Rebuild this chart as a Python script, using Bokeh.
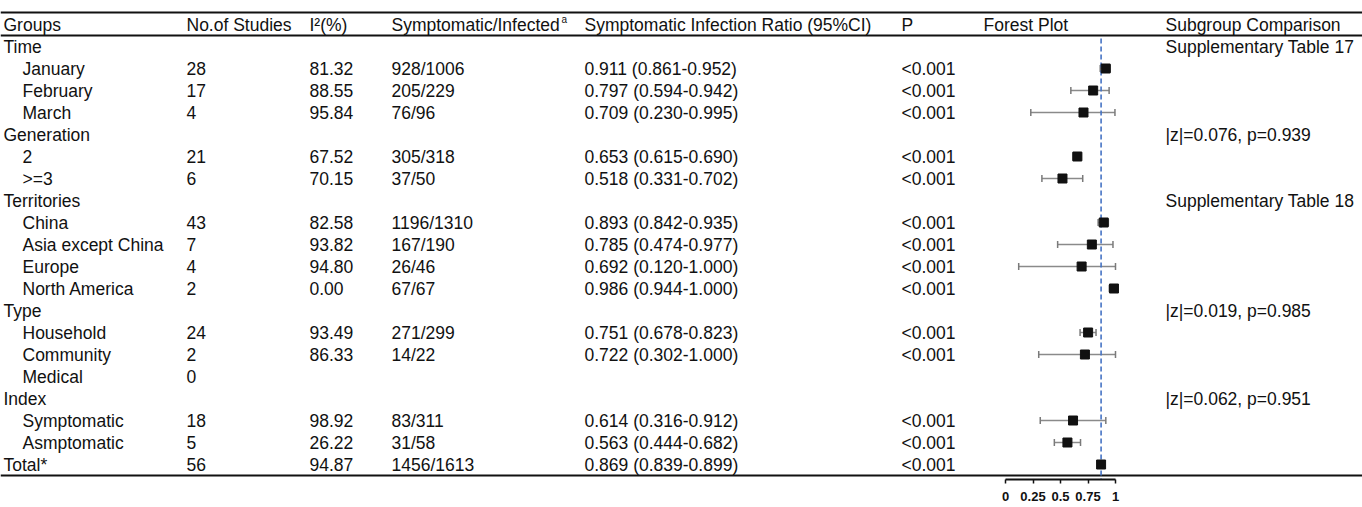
from bokeh.plotting import figure
from bokeh.models import Range1d, LinearAxis, FixedTicker, ColumnDataSource
from bokeh.core.properties import value
from bokeh.embed import file_html
from bokeh.resources import INLINE

# ---------------- data ----------------
headers = ["Groups", "No.of Studies", "I\u00b2(%)", "Symptomatic/Infected",
           "Symptomatic Infection Ratio (95%CI)", "P", "Forest Plot", "Subgroup Comparison"]
labels = ["Time", "January", "February", "March", "Generation", "2", ">=3",
          "Territories", "China", "Asia except China", "Europe", "North America",
          "Type", "Household", "Community", "Medical", "Index", "Symptomatic",
          "Asmptomatic", "Total*"]
indent = [0, 1, 1, 1, 0, 1, 1, 0, 1, 1, 1, 1, 0, 1, 1, 1, 0, 1, 1, 0]
studies = ["", "28", "17", "4", "", "21", "6", "", "43", "7", "4", "2", "",
           "24", "2", "0", "", "18", "5", "56"]
i2 = ["", "81.32", "88.55", "95.84", "", "67.52", "70.15", "", "82.58", "93.82",
      "94.80", "0.00", "", "93.49", "86.33", "", "", "98.92", "26.22", "94.87"]
symp_inf = ["", "928/1006", "205/229", "76/96", "", "305/318", "37/50", "",
            "1196/1310", "167/190", "26/46", "67/67", "", "271/299", "14/22", "",
            "", "83/311", "31/58", "1456/1613"]
ratio = [None, 0.911, 0.797, 0.709, None, 0.653, 0.518, None, 0.893, 0.785, 0.692,
         0.986, None, 0.751, 0.722, None, None, 0.614, 0.563, 0.869]
lower = [None, 0.861, 0.594, 0.230, None, 0.615, 0.331, None, 0.842, 0.474, 0.120,
         0.944, None, 0.678, 0.302, None, None, 0.316, 0.444, 0.839]
upper = [None, 0.952, 0.942, 0.995, None, 0.690, 0.702, None, 0.935, 0.977, 1.000,
         1.000, None, 0.823, 1.000, None, None, 0.912, 0.682, 0.899]
pvals = ["", "<0.001", "<0.001", "<0.001", "", "<0.001", "<0.001", "", "<0.001",
         "<0.001", "<0.001", "<0.001", "", "<0.001", "<0.001", "", "", "<0.001",
         "<0.001", "<0.001"]
subgroup = ["Supplementary Table 17", "", "", "", "|z|=0.076, p=0.939", "", "",
            "Supplementary Table 18", "", "", "", "", "|z|=0.019, p=0.985", "", "",
            "", "|z|=0.062, p=0.951", "", "", ""]
pooled = 0.869
axis_ticks = [0, 0.25, 0.5, 0.75, 1]

# ---------------- layout ----------------
W, H = 1362, 507
ROW0, ROWH = 46.0, 22.0          # pixel y of first row, row spacing
BOTTOM = 28                      # space for forest axis
def row_of(py):
    return (py - ROW0) / ROWH

FX0, FX1 = 1005.0, 1115.0        # pixel x of forest value 0 and 1
fscale = FX1 - FX0

p = figure(width=W, height=H, output_backend="svg", toolbar_location=None,
           x_axis_type=None, y_axis_type=None,
           x_range=Range1d(0, W),
           y_range=Range1d(row_of(H - BOTTOM), row_of(0)),
           min_border_left=0, min_border_right=0, min_border_top=0,
           min_border_bottom=BOTTOM)
p.outline_line_color = None
p.xgrid.visible = False
p.ygrid.visible = False
p.background_fill_color = "white"
p.border_fill_color = "white"

p.extra_x_ranges = {"forest": Range1d((0 - FX0) / fscale, (W - FX0) / fscale)}

FONT = value("Liberation Sans")
FS = "17.5px"
TXT = "#111111"

col_x = [3, 186, 309, 391, 584, 901, 983, 1165]

# header
hy = row_of(24)
p.text(x=col_x, y=[hy] * len(headers), text=headers, text_font=FONT,
       text_font_size=FS, text_baseline="middle", text_color=TXT)
# superscript a
p.text(x=[561], y=[row_of(19)], text=["a"], text_font=FONT, text_font_size="10px",
       text_baseline="middle", text_color=TXT)

rows = list(range(len(labels)))
src = ColumnDataSource(dict(
    y=rows,
    lx=[3 + 19 * i for i in indent],
    label=labels, studies=studies, i2=i2, symp=symp_inf,
    ratio_txt=[("%.3f (%.3f-%.3f)" % (r, l, u)) if r is not None else ""
               for r, l, u in zip(ratio, lower, upper)],
    p=pvals, sub=subgroup,
))
common = dict(y="y", source=src, text_font=FONT, text_font_size=FS,
              text_baseline="middle", text_color=TXT)
p.text(x="lx", text="label", **common)
p.text(x=col_x[1], text="studies", **common)
p.text(x=col_x[2], text="i2", **common)
p.text(x=col_x[3], text="symp", **common)
p.text(x=col_x[4], text="ratio_txt", **common)
p.text(x=col_x[5], text="p", **common)
p.text(x=col_x[7], text="sub", **common)

# horizontal rules
p.segment(x0=[0, 0, 0], x1=[W, W, W],
          y0=[row_of(12), row_of(35), row_of(475)],
          y1=[row_of(12), row_of(35), row_of(475)],
          line_color="#111111", line_width=2)

# forest plot
fy = [i for i, r in enumerate(ratio) if r is not None]
fr = [ratio[i] for i in fy]
fl = [lower[i] for i in fy]
fu = [upper[i] for i in fy]
fsrc = ColumnDataSource(dict(y=fy, r=fr, l=fl, u=fu,
                             ylo=[v - 0.16 for v in fy], yhi=[v + 0.16 for v in fy]))
p.segment(x0="l", x1="u", y0="y", y1="y", source=fsrc, x_range_name="forest",
          line_color="#8a8a8a", line_width=1.5)
p.segment(x0="l", x1="l", y0="ylo", y1="yhi", source=fsrc, x_range_name="forest",
          line_color="#7a7a7a", line_width=1.5)
p.segment(x0="u", x1="u", y0="ylo", y1="yhi", source=fsrc, x_range_name="forest",
          line_color="#7a7a7a", line_width=1.5)
p.segment(x0=[pooled], x1=[pooled], y0=[row_of(38)], y1=[row_of(H)],
          x_range_name="forest", line_color="#4472C4", line_width=1.6,
          line_dash="5 3")
p.scatter(x="r", y="y", source=fsrc, x_range_name="forest", marker="square",
          size=9, fill_color="#111111", line_color="#111111")

ax = LinearAxis(x_range_name="forest", bounds=(0, 1),
                ticker=FixedTicker(ticks=axis_ticks, minor_ticks=[]))
ax.major_label_overrides = {0: "0", 0.25: "0.25", 0.5: "0.5", 0.75: "0.75", 1: "1"}
ax.axis_line_width = 2
ax.axis_line_color = "#111111"
ax.major_tick_line_width = 1.5
ax.major_tick_line_color = "#111111"
ax.major_tick_in = 0
ax.major_tick_out = 4
ax.minor_tick_out = 0
ax.minor_tick_in = 0
ax.major_label_standoff = 8
ax.major_label_text_font = "Liberation Sans"
ax.major_label_text_font_style = "bold"
ax.major_label_text_font_size = "13px"
ax.major_label_text_color = "#111111"
p.add_layout(ax, "below")

open("out.html", "w").write(file_html(p, INLINE))
